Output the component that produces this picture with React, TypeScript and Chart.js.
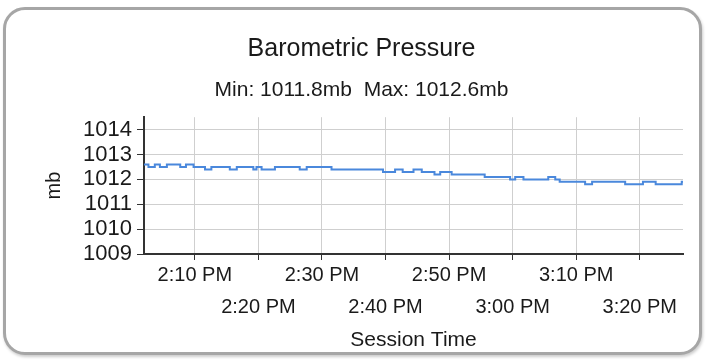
import React, { useEffect, useRef } from "react";
import { Chart, registerables } from "chart.js";

Chart.register(...registerables);

// minutes after 2:00 PM at which each reading starts
const times = [2.0, 2.7, 3.7, 4.5, 5.6, 7.7, 8.6, 9.8, 11.6, 12.6, 15.5, 16.6, 19.2, 19.7, 20.5, 22.6, 26.5, 27.6, 31.5, 39.6, 41.5, 42.7, 44.4, 45.7, 47.7, 48.6, 50.4, 55.6, 59.6, 60.4, 61.7, 65.6, 66.7, 67.4, 71.4, 72.5, 77.7, 80.5, 82.5, 86.6, 86.8];
const pressure = [1012.6, 1012.5, 1012.6, 1012.5, 1012.6, 1012.5, 1012.6, 1012.5, 1012.4, 1012.5, 1012.4, 1012.5, 1012.4, 1012.5, 1012.4, 1012.5, 1012.4, 1012.5, 1012.4, 1012.3, 1012.4, 1012.3, 1012.4, 1012.3, 1012.2, 1012.3, 1012.2, 1012.1, 1012.0, 1012.1, 1012.0, 1012.1, 1012.0, 1011.9, 1011.8, 1011.9, 1011.8, 1011.9, 1011.8, 1011.9, 1011.9];

const titleText = "Barometric Pressure";
const subtitleText = "Min: 1011.8mb  Max: 1012.6mb";
const yAxisTitle = "mb";
const xAxisTitle = "Session Time";
const yMin = 1009;
const yMax = 1014.5;
const startHour = 14;

const FONT = "'Liberation Sans', Arial, sans-serif";

function fmtTime(v: number): string {
  const total = startHour * 60 + Math.round(v);
  let h = Math.floor(total / 60);
  const m = total % 60;
  const ampm = h >= 12 ? "PM" : "AM";
  h = h % 12;
  if (h === 0) h = 12;
  return `${h}:${m < 10 ? "0" + m : m} ${ampm}`;
}

export default function App() {
  const ref = useRef<HTMLCanvasElement | null>(null);
  useEffect(() => {
    if (!ref.current) return;
    const chart = new Chart(ref.current, {
      type: "line",
      data: {
        datasets: [
          {
            data: times.map((t, i) => ({ x: t, y: pressure[i] })),
            borderColor: "#4a88dc",
            borderWidth: 2,
            pointRadius: 0,
            stepped: true,
            fill: false,
          },
        ],
      },
      options: {
        responsive: false,
        animation: false,
        layout: { padding: { left: 40, right: 28, top: 0, bottom: 7 } },
        plugins: {
          legend: { display: false },
          tooltip: { enabled: false },
          title: {
            display: true,
            text: titleText,
            color: "#1a1a1a",
            font: { family: FONT, size: 25, weight: "normal", lineHeight: 1.2 },
            padding: { top: 34, bottom: 0 },
          },
          subtitle: {
            display: true,
            text: subtitleText,
            color: "#1a1a1a",
            font: { family: FONT, size: 21, weight: "normal", lineHeight: 1.2 },
            padding: { top: 14, bottom: 14 },
          },
        },
        scales: {
          x: {
            type: "linear",
            min: times[0],
            max: times[times.length - 1],
            afterFit: (s: any) => {
              s.height = 99;
            },
            border: { display: true, color: "#333", width: 2 },
            grid: { color: "#cfcfcf", lineWidth: 1, tickColor: "#333", tickLength: 6 },
            ticks: {
              stepSize: 10,
              includeBounds: false,
              maxRotation: 0,
              autoSkip: false,
              padding: 0,
              color: "#1a1a1a",
              font: { family: FONT, size: 20, lineHeight: 1.58 },
              callback: (v: any, i: number) => (i % 2 === 0 ? fmtTime(Number(v)) : ["", fmtTime(Number(v))]),
            },
            title: {
              display: true,
              text: xAxisTitle,
              color: "#1a1a1a",
              font: { family: FONT, size: 21, lineHeight: 1.2 },
              padding: { top: 0, bottom: 0 },
            },
          },
          y: {
            min: yMin,
            max: yMax,
            afterFit: (s: any) => {
              s.width = 104;
            },
            border: { display: true, color: "#333", width: 2 },
            grid: { color: "#cfcfcf", lineWidth: 1, tickColor: "#333", tickLength: 7 },
            ticks: {
              stepSize: 1,
              includeBounds: false,
              autoSkip: false,
              padding: 5,
              color: "#1a1a1a",
              font: { family: FONT, size: 22 },
              callback: (v: any) => String(v),
            },
            title: {
              display: true,
              text: yAxisTitle,
              color: "#1a1a1a",
              font: { family: FONT, size: 20, lineHeight: 1.2 },
              padding: { top: 2, bottom: 0 },
            },
          },
        },
      } as any,
    });
    return () => chart.destroy();
  }, []);

  return (
    <div style={{ position: "fixed", left: 0, top: 0, width: 711, height: 360, background: "#fff" }}>
      <div
        style={{
          position: "absolute",
          left: 3,
          top: 7,
          width: 699,
          height: 348,
          boxSizing: "border-box",
          border: "3px solid #a6a6a6",
          borderRadius: 22,
          boxShadow: "1px 2px 3px rgba(0,0,0,0.2)",
          background: "#fff",
        }}
      />
      <canvas ref={ref} width={711} height={360} style={{ position: "absolute", left: 0, top: 0 }} />
    </div>
  );
}
